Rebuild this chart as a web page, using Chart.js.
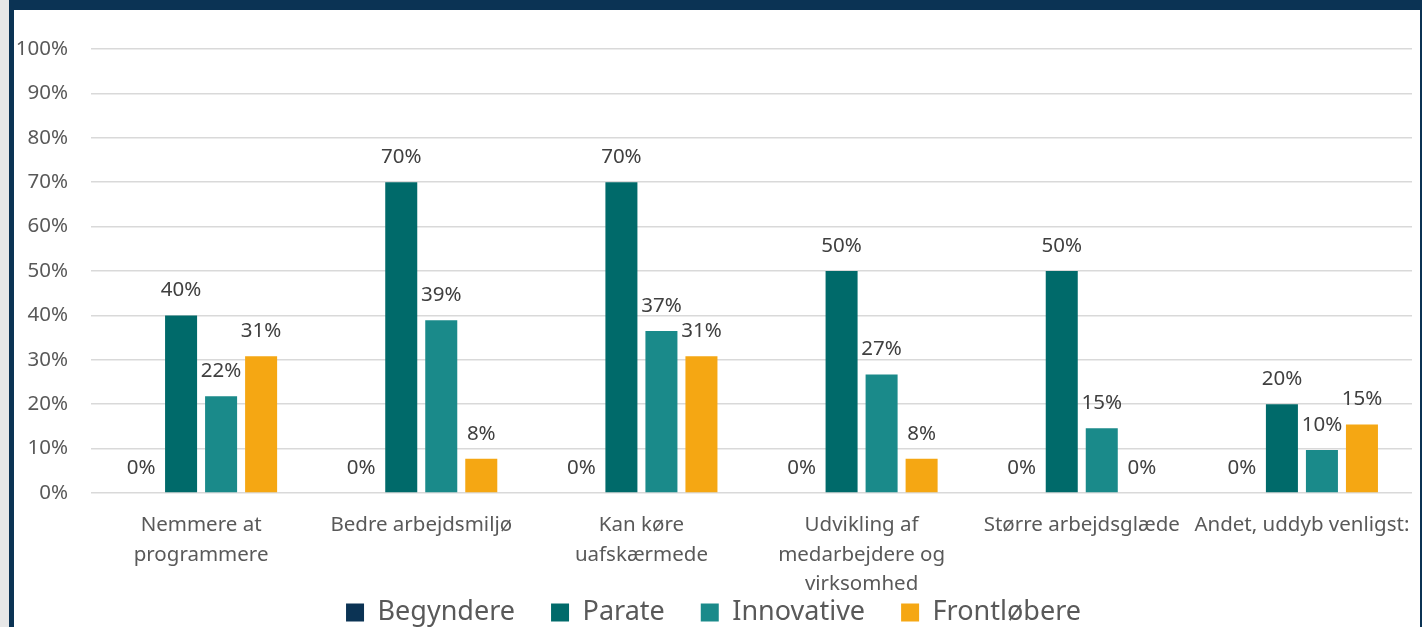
<!DOCTYPE html>
<html>
<head>
<meta charset="utf-8">
<script src="https://cdn.jsdelivr.net/npm/chart.js@4.4.0/dist/chart.umd.min.js"></script>
<style>
  html, body { margin: 0; padding: 0; background: #e7e7e7; }
  #frame {
    position: absolute; left: 9px; top: 0; width: 1413px; height: 627px;
    box-sizing: border-box; background: #fff;
    border-left: 5px solid #0b3354; border-top: 10px solid #0b3354; border-right: 2px solid #0b3354;
  }
  #wrap { position: relative; width: 1406px; height: 617px; }
</style>
</head>
<body>
<div id="frame"><div id="wrap"><canvas id="chart"></canvas></div></div>
<script>
/* ── data ── */
const categories = [
  ['Nemmere at', 'programmere'],
  'Bedre arbejdsmiljø',
  ['Kan køre', 'uafskærmede'],
  ['Udvikling af', 'medarbejdere og', 'virksomhed'],
  'Større arbejdsglæde',
  'Andet, uddyb venligst:',
];
const seriesNames = ['Begyndere', 'Parate', 'Innovative', 'Frontløbere'];
const begyndere   = [0, 0, 0, 0, 0, 0];
const parate      = [40, 70, 70, 50, 50, 20];
const innovative  = [21.8, 38.9, 36.5, 26.7, 14.6, 9.7];
const frontlobere = [30.8, 7.7, 30.8, 7.7, 0, 15.4];
const yTicks = [0, 10, 20, 30, 40, 50, 60, 70, 80, 90, 100];

const colors = ['#0b3354', '#006a6a', '#1a8a8a', '#f5a713'];
const FONT = '"Noto Sans", "Open Sans", sans-serif';

/* value labels above every bar, zeros included */
const valueLabels = {
  id: 'valueLabels',
  afterDatasetsDraw(chart) {
    const { ctx } = chart;
    ctx.save();
    ctx.font = '20.5px ' + FONT;
    ctx.fillStyle = '#404040';
    ctx.textAlign = 'center';
    ctx.textBaseline = 'middle';
    chart.data.datasets.forEach((ds, i) => {
      chart.getDatasetMeta(i).data.forEach((bar, j) => {
        ctx.fillText(Math.round(ds.data[j]) + '%', bar.x, bar.y - 25);
      });
    });
    ctx.restore();
  },
};

/* keep the legend thin so the 3-line category labels fit,
   then slide it up into the free space under the shorter labels */
const legendPlace = {
  id: 'legendPlace',
  beforeInit(chart) {
    const lg = chart.legend;
    const fit = lg.fit.bind(lg);
    lg.fit = function () { fit(); this.height = 30; };
  },
  afterLayout(chart) {
    const lg = chart.legend;
    lg.top = 553;
    lg.bottom = chart.height;
    lg.height = lg.bottom - lg.top;
  },
};

const series = [begyndere, parate, innovative, frontlobere];

new Chart(document.getElementById('chart'), {
  type: 'bar',
  data: {
    labels: categories,
    datasets: series.map((d, i) => ({
      label: seriesNames[i],
      data: d,
      backgroundColor: colors[i],
      categoryPercentage: 0.727,
      barPercentage: 0.8,
    })),
  },
  options: {
    responsive: true,
    maintainAspectRatio: false,
    animation: false,
    layout: { padding: { top: 39, left: 0, right: 7, bottom: 0 } },
    plugins: {
      legend: {
        position: 'bottom',
        labels: {
          color: '#595959',
          font: { family: FONT, size: 27 },
          boxWidth: 18, boxHeight: 18,
          padding: 36,
        },
      },
      tooltip: { enabled: false },
    },
    scales: {
      y: {
        min: 0, max: 100,
        afterFit(s) { s.width = 77; },
        afterBuildTicks(s) { s.ticks = yTicks.map(v => ({ value: v })); },
        grid: { color: '#d9d9d9', lineWidth: 1.5, drawTicks: false },
        border: { display: false },
        ticks: {
          color: '#595959', padding: 23,
          font: { family: FONT, size: 20.5 },
          callback: v => v + '%',
        },
      },
      x: {
        afterFit(s) { s.height = 104; },
        grid: { display: false },
        border: { display: false },
        ticks: {
          color: '#595959', padding: 10, maxRotation: 0, autoSkip: false,
          font: { family: FONT, size: 20.5, lineHeight: 1.42 },
        },
      },
    },
  },
  plugins: [valueLabels, legendPlace],
});
</script>
</body>
</html>
